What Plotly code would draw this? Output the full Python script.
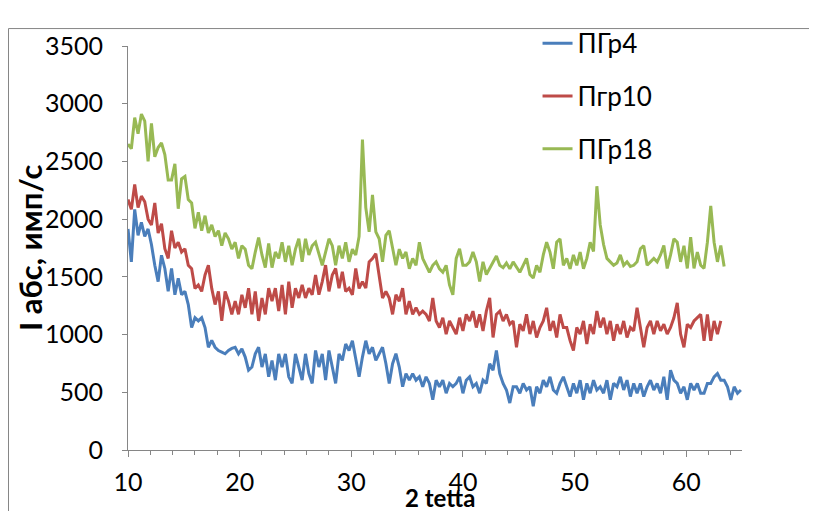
import plotly.graph_objects as go

# 2-theta scan grid (degrees)
two_theta_start = 10.0
two_theta_step = 0.3

# Intensity, counts/s
pgr4 = [
    1915, 1630, 2085, 1860, 1972, 1850, 1915, 1780, 1600, 1459, 1687, 1573, 1374, 1573, 1345, 1488,
    1345, 1374, 1260, 1061, 1146, 1118, 1146, 1061, 890, 950, 890, 862, 848, 834, 862, 880,
    890, 833, 876, 805, 691, 719, 833, 890, 719, 833, 634, 776, 605, 833, 719, 833, 634,
    577, 833, 719, 605, 833, 662, 577, 862, 719, 833, 605, 862, 719, 577, 833, 776,
    918, 862, 947, 776, 634, 805, 947, 833, 890, 776, 833, 890, 750, 577, 748, 834, 719,
    548, 662, 605, 662, 605, 634, 548, 634, 577, 435, 605, 548, 605, 492, 577, 548,
    577, 634, 491, 605, 634, 548, 577, 492, 605, 577, 748, 691, 862, 662, 577, 520, 407,
    548, 548, 492, 577, 520, 548, 378, 548, 492, 605, 548, 634, 520, 492, 577, 634,
    548, 463, 577, 492, 605, 435, 577, 492, 605, 520, 548, 492, 605, 435, 577, 548, 634,
    520, 605, 463, 577, 492, 577, 463, 548, 605, 520, 577, 492, 634, 435, 691, 605,
    577, 492, 548, 435, 577, 520, 577, 492, 492, 577, 577, 634, 662, 605, 605, 548, 435,
    548, 492, 520,
]

pgr10 = [
    2170, 2085, 2300, 2100, 2200, 2150, 2000, 1950, 2140, 1880, 1960, 1744, 1660, 1900, 1750, 1800,
    1715, 1744, 1600, 1570, 1400, 1430, 1374, 1516, 1600, 1400, 1260, 1374, 1118, 1374, 1290, 1175,
    1289, 1175, 1345, 1232, 1402, 1175, 1374, 1118, 1317, 1175, 1402, 1289, 1402, 1203, 1430,
    1175, 1459, 1232, 1402, 1317, 1430, 1317, 1402, 1345, 1516, 1345, 1459, 1602, 1374, 1516,
    1573, 1402, 1544,
    1374, 1402, 1345, 1573, 1400, 1459, 1402, 1630, 1658, 1701, 1500, 1317, 1374, 1317, 1175,
    1345, 1289, 1402, 1175, 1289, 1175, 1232, 1175, 1203, 1175, 1118, 1317, 1118, 1061, 1146,
    1004, 1118, 1061,
    1004, 1146, 1032, 1175, 1118, 1203, 1061, 1175, 1032, 1203, 1317, 975, 1175, 1203, 1118,
    1175, 1089, 1118, 890, 1089, 1032, 1175, 1004, 1118, 975, 1061, 1118, 1232, 1032, 1118,
    975, 1175, 1061,
    1061, 947, 862, 1061, 1004, 1118, 919, 1089, 1004, 1204, 1061, 1146, 1004, 1118, 947,
    1089, 1004, 1118, 975, 1061, 1032, 1232, 1061, 890, 1061, 1118, 1004, 1118, 1032, 1089,
    1004, 1061, 1146,
    1275, 1004, 890, 1089, 1061, 1118, 1146, 1175, 947, 1175, 947, 1118, 1004, 1118,
]

pgr18 = [
    2650, 2610, 2880, 2740, 2910, 2850, 2500, 2830, 2540, 2620, 2660, 2560, 2340, 2340, 2480, 2090,
    2350, 2370, 2170, 2140, 1920, 2060, 1900, 2030, 1880, 1950, 1850, 1900, 1770, 1880, 1830, 1740,
    1800, 1660, 1770, 1740, 1600, 1570, 1715, 1840, 1690, 1580, 1790, 1580, 1715, 1660, 1800,
    1630, 1770, 1600, 1740, 1830, 1630, 1830, 1690, 1770, 1800, 1690, 1600, 1715, 1830, 1770,
    1600, 1770, 1660,
    1800, 1630, 1740, 1690, 1850, 2690, 2100, 1890, 2210, 1890, 1830, 1630, 1860, 1900, 1750,
    1600, 1740, 1660, 1715, 1570, 1660, 1600, 1800, 1660, 1600, 1540, 1600, 1630, 1570, 1540,
    1600, 1430, 1345,
    1660, 1744, 1600, 1600, 1630, 1715, 1630, 1460, 1630, 1520, 1570, 1630, 1680, 1600, 1580,
    1620, 1570, 1630, 1580, 1540, 1600, 1660, 1520, 1490, 1600, 1540, 1690, 1800, 1715, 1570,
    1800, 1829, 1600,
    1660, 1570, 1690, 1600, 1715, 1570, 1660, 1800, 1720, 2285, 1950, 1780, 1660, 1630, 1600,
    1620, 1690, 1600, 1630, 1590, 1600, 1630, 1744, 1770, 1600, 1630, 1660, 1630, 1690, 1772,
    1573, 1690, 1829,
    1800, 1630, 1770, 1573, 1843, 1573, 1715, 1600, 1573, 1800, 2114, 1800, 1630, 1772, 1590,
]

series_names = ["ПГр4", "Пгр10", "ПГр18"]
series_values = [pgr4, pgr10, pgr18]
series_colors = ["#4A7EBB", "#BE4B48", "#98B954"]

x_ticks = [10, 20, 30, 40, 50, 60]
y_ticks = [0, 500, 1000, 1500, 2000, 2500, 3000, 3500]

FONT = "Lato, 'Open Sans', sans-serif"
AXIS_GRAY = "#868686"

# page body has an 8px margin, so the figure is sized/offset for it
W, H = 809, 503
ML, MR, MT, MB = 120, 75, 25, 61
PW = W - ML - MR
PH = H - MT - MB

fig = go.Figure()
for i, (name, vals, col) in enumerate(zip(series_names, series_values, series_colors)):
    xs = [round(two_theta_start + two_theta_step * k, 2) for k in range(len(vals))]
    fig.add_trace(go.Scatter(
        x=xs, y=vals, mode="lines", name=name, legendgroup=f"g{i}",
        line=dict(color=col, width=3),
    ))

fig.update_layout(
    width=W, height=H,
    margin=dict(l=ML, r=MR, t=MT, b=MB),
    paper_bgcolor="white", plot_bgcolor="white",
    font=dict(family=FONT, color="#000000"),
    showlegend=True,
    legend=dict(
        x=0.667, y=1.065, xanchor="left", yanchor="top",
        font=dict(size=26, family=FONT, color="#000000"),
        bgcolor="rgba(0,0,0,0)", tracegroupgap=16,
    ),
    xaxis=dict(
        range=[10, 65], tickvals=x_ticks, ticktext=[str(v) for v in x_ticks],
        showgrid=False, zeroline=False,
        showline=True, linecolor=AXIS_GRAY, linewidth=1,
        ticks="outside", ticklen=6, tickcolor=AXIS_GRAY,
        tickfont=dict(size=25, family=FONT),
        ticklabelstandoff=4,
        minor=dict(dtick=2, tick0=10, ticks="outside", ticklen=4, tickcolor=AXIS_GRAY),
    ),
    yaxis=dict(
        range=[0, 3500], tickvals=y_ticks, ticktext=[str(v) for v in y_ticks],
        showgrid=False, zeroline=False,
        showline=True, linecolor=AXIS_GRAY, linewidth=1,
        ticks="outside", ticklen=5, tickcolor=AXIS_GRAY,
        tickfont=dict(size=25, family=FONT),
        ticklabelstandoff=14,
    ),
    annotations=[
        dict(text="<b>2 tetta</b>", xref="paper", yref="paper", x=0.5, y=0,
             xanchor="center", yanchor="middle", yshift=-47, xshift=5, showarrow=False,
             font=dict(size=24, family=FONT)),
        dict(text="<b>I абс, имп/с</b>", xref="paper", yref="paper", x=0, y=0.5,
             xanchor="center", yanchor="middle", xshift=-98, textangle=-90, showarrow=False,
             font=dict(size=31, family=FONT)),
    ],
    shapes=[
        dict(type="rect", xref="paper", yref="paper",
             x0=(0.5 - ML) / PW, x1=(803 - ML) / PW,
             y0=(PH + MT - 520) / PH, y1=(PH + MT - 7) / PH,
             line=dict(color=AXIS_GRAY, width=1), fillcolor="rgba(0,0,0,0)", layer="below"),
    ],
)

fig.write_html("out.html")
